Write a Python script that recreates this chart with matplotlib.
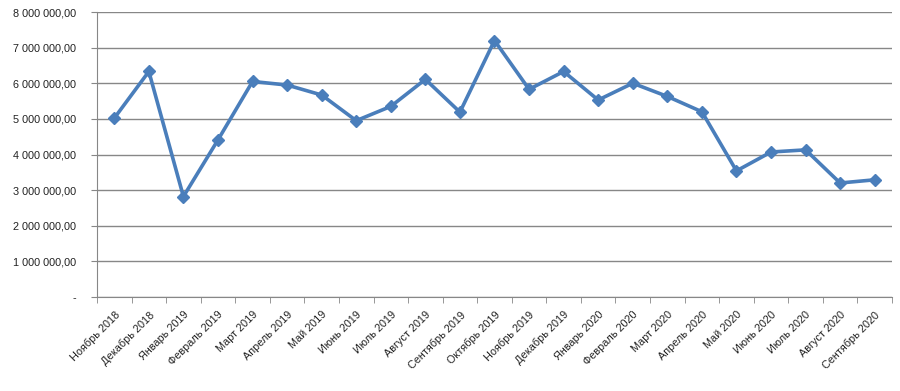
import numpy as np
import matplotlib
matplotlib.use("Agg")
import matplotlib.pyplot as plt
from matplotlib.ticker import FixedLocator, FuncFormatter

plt.rcParams['font.family'] = ['Liberation Sans', 'DejaVu Sans']

months = ['Ноябрь 2018', 'Декабрь 2018', 'Январь 2019', 'Февраль 2019', 'Март 2019',
          'Апрель 2019', 'Май 2019', 'Июнь 2019', 'Июль 2019', 'Август 2019',
          'Сентябрь 2019', 'Октябрь 2019', 'Ноябрь 2019', 'Декабрь 2019', 'Январь 2020',
          'Февраль 2020', 'Март 2020', 'Апрель 2020', 'Май 2020', 'Июнь 2020',
          'Июль 2020', 'Август 2020', 'Сентябрь 2020']
values = [5020000, 6330000, 2820000, 4410000, 6050000,
          5950000, 5670000, 4950000, 5350000, 6110000,
          5190000, 7200000, 5830000, 6330000, 5530000,
          6000000, 5630000, 5200000, 3540000, 4070000,
          4130000, 3200000, 3290000]
y_ticks = [0, 1000000, 2000000, 3000000, 4000000, 5000000, 6000000, 7000000, 8000000]

grey = '#878787'

fig = plt.figure(figsize=(9, 3.91), dpi=100)
ax = fig.add_axes([97 / 900, 1 - 297 / 391, 795 / 900, 285 / 391])

x = np.arange(len(months))
ax.plot(x, values, color='#4A7EBB', lw=2.6, marker='D', markersize=6.5, zorder=3)

ax.set_xlim(-0.5, len(months) - 0.5)
ax.set_ylim(0, 8000000)


def fmt(v, pos):
    if v == 0:
        return '-'
    return f'{v:,.2f}'.replace(',', ' ').replace('.', ',')


ax.yaxis.set_major_locator(FixedLocator(y_ticks))
ax.yaxis.set_major_formatter(FuncFormatter(fmt))
ax.yaxis.grid(True, color=grey, lw=1)
ax.set_axisbelow(True)

ax.set_xticks(x)
ax.set_xticklabels(months, rotation=45, ha='right', rotation_mode='anchor')
ax.set_xticks(np.arange(-0.5, len(months), 1), minor=True)
ax.tick_params(axis='x', which='major', length=0, pad=9, labelsize=7.8, colors='#222222')
ax.tick_params(axis='x', which='minor', length=4, color=grey, direction='out')
ax.tick_params(axis='y', length=4, color=grey, pad=11, labelsize=7.8, labelcolor='#222222')

for s in ['top', 'right']:
    ax.spines[s].set_visible(False)
ax.spines['left'].set_color(grey)
ax.spines['bottom'].set_color(grey)

fig.savefig('out.png', dpi=100, facecolor='white')
